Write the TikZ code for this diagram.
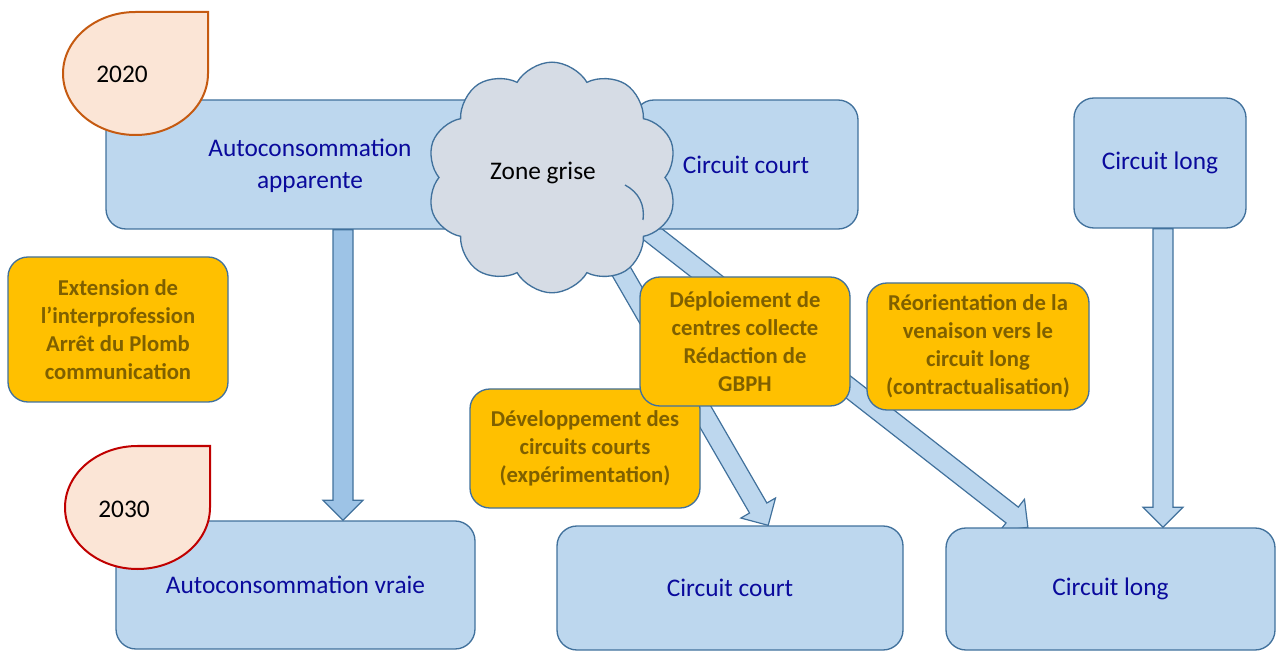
\documentclass[tikz,border=0pt]{standalone}
\usepackage{fontspec}
\setmainfont{Carlito}
\usetikzlibrary{shapes.symbols,calc,backgrounds}
\definecolor{boxfill}{HTML}{BDD7EE}
\definecolor{boxdraw}{HTML}{41719C}
\definecolor{boxtext}{HTML}{0A0A9C}
\definecolor{actfill}{HTML}{FFC000}
\definecolor{acttext}{HTML}{7F6000}
\definecolor{cloudfill}{HTML}{D6DCE5}
\definecolor{tearfill}{HTML}{FBE5D6}
\definecolor{tearA}{HTML}{C55A11}
\definecolor{tearB}{HTML}{C00000}
\definecolor{arrowdark}{HTML}{9DC3E6}
\begin{document}
\begin{tikzpicture}[x=0.75pt,y=0.75pt,
  box/.style={draw=boxdraw, line width=1pt, fill=boxfill, rounded corners=15pt},
  lbl/.style={text=boxtext, align=center, font=\fontsize{19}{24}\selectfont},
  act/.style={draw=boxdraw, line width=1pt, fill=actfill, rounded corners=15pt, align=center, text=acttext, font=\fontsize{17}{21}\selectfont\bfseries},
  blockarrow/.style={draw=boxdraw, line width=0.9pt, line join=miter},
  puff/.style={draw=boxdraw, line width=1pt},
  tear/.style={fill=tearfill, line width=1.5pt}]
\useasboundingbox (0,0) rectangle (1279,-652);
% top row
\node[box, minimum width=355.5pt, minimum height=96.75pt] (autoapp) at (343,-164.5){};
\node[lbl] (autoapptxt) at (310,-166){Autoconsommation\\apparente};
\node[box, lbl, minimum width=168pt, minimum height=96.75pt] (cctop) at (746,-164.5){Circuit court};
\node[box, lbl, minimum width=129pt, minimum height=97.5pt] (cltop) at (1160,-163){Circuit long};
\node[cloud, cloud puffs=10, cloud puff arc=120, cloud ignores aspect, draw=boxdraw, line width=1pt, fill=cloudfill, minimum width=188pt, minimum height=173pt] (cloud) at (552,-177.5){};
\node[font=\fontsize{19}{24}\selectfont] (zone) at (543,-173){Zone grise};
\draw[puff] (625,-185) to[bend left=35] (643,-220);
% bottom row
\node[box, lbl, minimum width=269.25pt, minimum height=96pt] (autovraie) at (295.5,-585){Autoconsommation vraie};
\node[box, lbl, minimum width=259.5pt, minimum height=93pt] (ccbot) at (730,-588){Circuit court};
\node[box, lbl, minimum width=246.75pt, minimum height=91.5pt] (clbot) at (1110.5,-589){Circuit long};
% actions
\node[act, minimum width=165pt, minimum height=108.75pt] (ext) at (118,-329.5){Extension de\\l'interprofession\\Arrêt du Plomb\\communication};
\node[act, minimum width=172.5pt, minimum height=89.25pt] (devel) at (585,-448.5){Développement des\\circuits courts\\(expérimentation)};
\node[act, minimum width=157.5pt, minimum height=96.75pt] (depl) at (745,-341.5){Déploiement de\\centres collecte\\Rédaction de\\GBPH};
\node[act, minimum width=166.5pt, minimum height=95.25pt] (reor) at (978,-346.5){Réorientation de la\\venaison vers le\\circuit long\\(contractualisation)};
% years
\draw[tear, draw=tearA] (63,-73.5) arc[start angle=180, end angle=90, x radius=72.5, y radius=61.5] -- (208,-12) -- (208,-73.5) arc[start angle=0, end angle=-180, x radius=72.5, y radius=61.5] -- cycle;
\node[font=\fontsize{19}{24}\selectfont] (y2020) at (122,-74){2020};
\draw[tear, draw=tearB] (65,-507.5) arc[start angle=180, end angle=90, x radius=72.5, y radius=61.5] -- (210,-446) -- (210,-507.5) arc[start angle=0, end angle=-180, x radius=72.5, y radius=61.5] -- cycle;
\node[font=\fontsize{19}{24}\selectfont] (y2030) at (124,-509){2030};
% arrows
\coordinate (a0s) at (autoapp.south);
\coordinate (a0e) at (autoapp.south |- autovraie.north);
\coordinate (a1s) at ($(cloud.center)+(15,0)$);
\coordinate (a1e) at ($(ccbot.north west)!0.61!(ccbot.north east)$);
\coordinate (a2s) at ($(cloud.center)+(28,0)$);
\coordinate (a2e) at ($(clbot.north west)!0.25!(clbot.north east)$);
\coordinate (a3s) at ($(cltop.south)+(3,0)$);
\coordinate (a3e) at (a3s |- clbot.north);
\begin{scope}[on background layer]
\foreach \s/\e/\c in {a0s/a0e/arrowdark, a1s/a1e/boxfill, a2s/a2e/boxfill, a3s/a3e/boxfill}{
  \coordinate (hb) at ($(\e)!15pt!(\s)$);
  \draw[blockarrow, fill=\c] ($(\s)!7.5pt!90:(\e)$) -- ($(hb)!7.5pt!90:(\e)$) -- ($(hb)!15pt!90:(\e)$) -- (\e) -- ($(hb)!15pt!-90:(\e)$) -- ($(hb)!7.5pt!-90:(\e)$) -- ($(\s)!7.5pt!-90:(\e)$) -- cycle;
}
\end{scope}
\end{tikzpicture}
\end{document}
